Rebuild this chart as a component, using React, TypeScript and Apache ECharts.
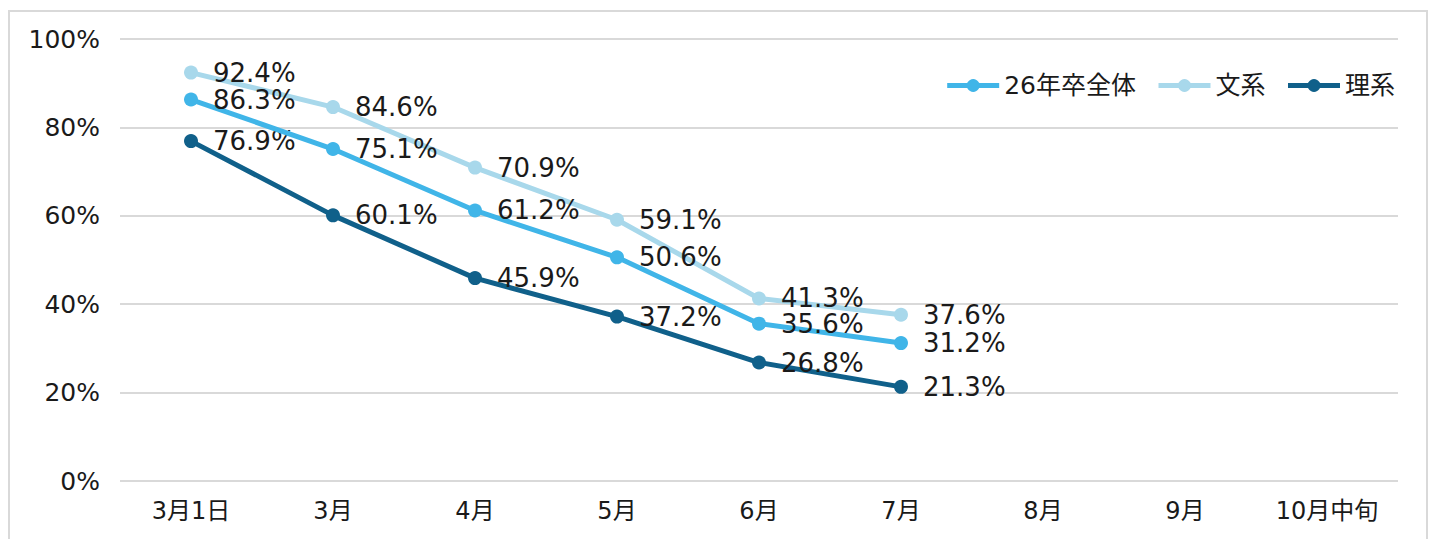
import React, { useEffect, useRef } from "react";
import * as echarts from "echarts";

const categories = ["3月1日", "3月", "4月", "5月", "6月", "7月", "8月", "9月", "10月中旬"];
const seriesNames = ["26年卒全体", "文系", "理系"];
const totalValues = [86.3, 75.1, 61.2, 50.6, 35.6, 31.2];
const bunkeiValues = [92.4, 84.6, 70.9, 59.1, 41.3, 37.6];
const rikeiValues = [76.9, 60.1, 45.9, 37.2, 26.8, 21.3];
const colors = ["#40B5E8", "#A8D8EB", "#10608A"];

const FONT = "'DejaVu Sans', 'Noto Sans CJK JP', sans-serif";

export default function App() {
  const ref = useRef<HTMLDivElement>(null);
  useEffect(() => {
    if (!ref.current) return;
    const chart = echarts.init(ref.current, null, { renderer: "svg" });
    const mk = (name: string, data: number[], color: string, z: number) => ({
      name,
      type: "line",
      data,
      color,
      symbol: "circle",
      symbolSize: 14,
      lineStyle: { width: 5, color },
      itemStyle: { color },
      label: {
        show: true,
        position: "right",
        distance: 15,
        formatter: (p: any) => p.value.toFixed(1) + "%",
        fontSize: 26,
        fontFamily: FONT,
        color: "#1a1a1a",
      },
      z,
    });
    chart.setOption({
      animation: false,
      backgroundColor: "#fff",
      textStyle: { fontFamily: FONT },
      graphic: [
        {
          type: "rect",
          shape: { x: 9, y: 11, width: 1418, height: 540 },
          style: { fill: "none", stroke: "#d9d9d9", lineWidth: 2 },
          silent: true,
        },
      ],
      legend: {
        data: seriesNames,
        right: 35,
        top: 68,
        itemWidth: 52,
        itemHeight: 16,
        itemGap: 20,
        lineStyle: { width: 5 },
        textStyle: { fontSize: 25, fontFamily: FONT, color: "#1a1a1a" },
      },
      grid: { left: 120, right: 37, top: 39, bottom: 58, containLabel: false },
      xAxis: {
        type: "category",
        data: categories,
        boundaryGap: true,
        axisLine: { show: false },
        axisTick: { show: false },
        axisLabel: { fontSize: 24, fontFamily: FONT, color: "#1a1a1a", margin: 18 },
      },
      yAxis: {
        type: "value",
        min: 0,
        max: 100,
        interval: 20,
        axisLine: { show: false },
        axisTick: { show: false },
        splitLine: { lineStyle: { color: "#d9d9d9", width: 2 } },
        axisLabel: {
          formatter: "{value}%",
          fontSize: 25,
          fontFamily: FONT,
          color: "#1a1a1a",
          margin: 20,
        },
      },
      series: [
        mk(seriesNames[0], totalValues, colors[0], 3),
        mk(seriesNames[1], bunkeiValues, colors[1], 2),
        mk(seriesNames[2], rikeiValues, colors[2], 2),
      ],
    });
    return () => chart.dispose();
  }, []);
  return (
    <div
      ref={ref}
      style={{ position: "fixed", left: 0, top: 0, width: 1435, height: 539 }}
    />
  );
}
